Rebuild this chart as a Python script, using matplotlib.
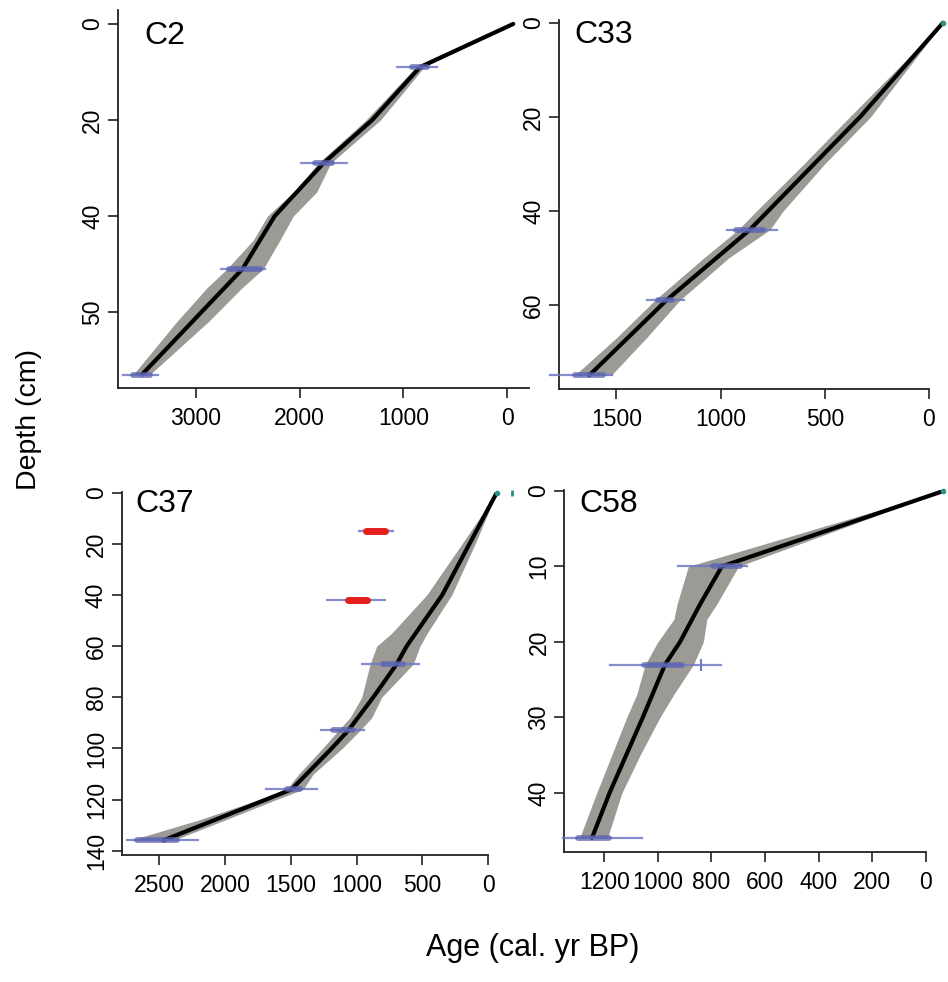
import matplotlib
matplotlib.use("Agg")
import matplotlib.pyplot as plt
import numpy as np

plt.rcParams['font.family'] = ['Liberation Sans', 'DejaVu Sans']

W, H = 948, 982

# ---- C2 ----
c2_line_depth = [0, 9, 20, 29, 40, 51, 73]
c2_line_age = [-60, 840, 1300, 1770, 2240, 2550, 3520]
c2_env_depth = [0, 9, 20, 29, 35, 40, 45, 51, 55, 62, 73]
c2_env_old = [-60, 880, 1360, 1820, 2060, 2310, 2446, 2700, 2896, 3185, 3604]
c2_env_young = [-60, 800, 1220, 1700, 1835, 2061, 2189, 2350, 2558, 2880, 3443]
c2_date_depth = [9, 29, 51, 73]
c2_date_lo = [675, 1545, 2330, 3365]
c2_date_hi = [1060, 1990, 2760, 3700]
c2_dens_lo = [775, 1690, 2380, 3443]
c2_dens_hi = [919, 1851, 2680, 3604]

# ---- C33 ----
c33_line_depth = [0, 20, 44, 59, 75]
c33_line_age = [-67, 330, 859, 1259, 1630]
c33_env_depth = [0, 20, 30, 40, 44, 50, 59, 67, 75]
c33_env_old = [-67, 380, 600, 827, 915, 1080, 1315, 1499, 1700]
c33_env_young = [-67, 280, 500, 699, 763, 960, 1195, 1355, 1525]
c33_date_depth = [44, 59, 75]
c33_date_lo = [728, 1174, 1523]
c33_date_hi = [968, 1355, 1819]
c33_dens_lo = [795, 1235, 1563]
c33_dens_hi = [926, 1299, 1699]

# ---- C37 ----
c37_line_depth = [0, 40, 60, 67, 80, 93, 100, 116, 136]
c37_line_age = [-64, 350, 620, 696, 874, 1064, 1190, 1494, 2470]
c37_env_depth = [0, 20, 40, 55, 60, 67, 80, 88, 93, 100, 110, 116, 120, 128, 136]
c37_env_old = [-64, 200, 468, 735, 848, 898, 962, 1051, 1140, 1260, 1440, 1532, 1740, 2200, 2723]
c37_env_young = [-64, 100, 278, 465, 519, 570, 810, 886, 975, 1110, 1330, 1406, 1610, 2000, 2394]
c37_date_depth = [67, 93, 116, 136]
c37_date_lo = [524, 946, 1304, 2205]
c37_date_hi = [962, 1274, 1689, 2749]
c37_dens_lo = [646, 1026, 1430, 2368]
c37_dens_hi = [798, 1178, 1532, 2672]
c37_out_depth = [15, 42]
c37_out_lo = [722, 785]
c37_out_hi = [981, 1228]
c37_out_dens_lo = [785, 924]
c37_out_dens_hi = [929, 1064]

# ---- C58 ----
c58_line_depth = [0, 10, 15, 20, 23, 30, 40, 46]
c58_line_age = [-66, 761, 842, 917, 973, 1056, 1180, 1246]
c58_env_depth = [0, 10, 15, 17, 20, 23, 27, 30, 35, 40, 46]
c58_env_old = [-66, 886, 928, 940, 1000, 1047, 1079, 1116, 1172, 1228, 1292]
c58_env_young = [-66, 699, 780, 817, 830, 867, 941, 992, 1066, 1134, 1188]
c58_date_depth = [10, 23, 46]
c58_date_lo = [668, 765, 1060]
c58_date_hi = [925, 1180, 1352]
c58_dens_lo = [692, 910, 1182]
c58_dens_hi = [795, 1053, 1296]

ENV = '#9c9a95'
BLUE = '#6f78c4'
BLUE_D = '#5a63b0'
RED = '#e3201e'
TEAL = '#2f8f86'


def make_axes(fig, left, right, top, bottom):
    return fig.add_axes([left / W, 1 - bottom / H, (right - left) / W, (bottom - top) / H])


def draw_core(ax, ld, la, ed, eo, ey, dd, dlo, dhi, klo, khi, teal=True):
    ax.fill_betweenx(ed, eo, ey, color=ENV, lw=0, zorder=1)
    ax.plot(la, ld, color='black', lw=3, zorder=3, solid_capstyle='round',
            solid_joinstyle='round')
    for d, lo, hi in zip(dd, dlo, dhi):
        ax.plot([lo, hi], [d, d], color=BLUE, lw=1.6, alpha=0.85, zorder=4, clip_on=False)
    for d, lo, hi in zip(dd, klo, khi):
        ax.plot([lo, hi], [d, d], color=BLUE_D, lw=4.2, alpha=0.75, zorder=4,
                solid_capstyle='round', clip_on=False)
    if teal:
        ax.plot([la[0]], [ld[0]], 'o', ms=3, color=TEAL, zorder=5, clip_on=False)


def style(ax, xlim, ylim, xticks, yticks, ylabels=None, xbound=None):
    ax.set_xlim(*xlim)
    ax.set_ylim(*ylim)
    ax.set_xticks(xticks)
    ax.set_yticks(yticks)
    ax.set_xticklabels([str(t) for t in xticks])
    ax.set_yticklabels(ylabels if ylabels else [str(t) for t in yticks])
    for s in ['top', 'right']:
        ax.spines[s].set_visible(False)
    for s in ['left', 'bottom']:
        ax.spines[s].set_linewidth(1.3)
        ax.spines[s].set_color('#222222')
    if xbound is not None:
        ax.spines['bottom'].set_bounds(*xbound)
    ax.tick_params(direction='out', length=7, width=1.2, labelsize=16.5, color='#222222')
    ax.tick_params(axis='x', pad=7)
    ax.tick_params(axis='y', pad=3)
    for t in ax.get_yticklabels():
        t.set_rotation(90)
        t.set_va('center')


fig = plt.figure(figsize=(W / 100, H / 100), dpi=100)

# C2
ax = make_axes(fig, 118, 529, 10, 388)
draw_core(ax, c2_line_depth, c2_line_age, c2_env_depth, c2_env_old, c2_env_young,
          c2_date_depth, c2_date_lo, c2_date_hi, c2_dens_lo, c2_dens_hi, teal=False)
style(ax, (3751, -212), (75.8, -2.9), [3000, 2000, 1000, 0], [0, 20, 40, 60],
      ylabels=['0', '20', '40', '50'])

# C33
ax = make_axes(fig, 559, 945, 20, 389)
draw_core(ax, c33_line_depth, c33_line_age, c33_env_depth, c33_env_old, c33_env_young,
          c33_date_depth, c33_date_lo, c33_date_hi, c33_dens_lo, c33_dens_hi)
style(ax, (1775, -77), (77.9, -0.6), [1500, 1000, 500, 0], [0, 20, 40, 60],
      xbound=(1775, 0))

# C37
ax = make_axes(fig, 121.7, 500, 491.7, 855)
draw_core(ax, c37_line_depth, c37_line_age, c37_env_depth, c37_env_old, c37_env_young,
          c37_date_depth, c37_date_lo, c37_date_hi, c37_dens_lo, c37_dens_hi)
for d, lo, hi in zip(c37_out_depth, c37_out_lo, c37_out_hi):
    ax.plot([lo, hi], [d, d], color=BLUE, lw=1.6, alpha=0.85, zorder=4)
for d, lo, hi in zip(c37_out_depth, c37_out_dens_lo, c37_out_dens_hi):
    ax.plot([lo, hi], [d, d], color=RED, lw=5, zorder=5, solid_capstyle='round')
ax.plot([-178], [0], marker='|', ms=4, mew=2, color=TEAL, clip_on=False, zorder=5)
style(ax, (2786, -89), (141.7, -0.4), [2500, 2000, 1500, 1000, 500, 0],
      [0, 20, 40, 60, 80, 100, 120, 140], xbound=(2786, 0))

# C58
ax = make_axes(fig, 564.3, 945, 490, 851.7)
draw_core(ax, c58_line_depth, c58_line_age, c58_env_depth, c58_env_old, c58_env_young,
          c58_date_depth, c58_date_lo, c58_date_hi, c58_dens_lo, c58_dens_hi)
ax.plot([838], [23], marker='|', ms=8, mew=1.5, color=BLUE, zorder=5)
style(ax, (1349, -72), (47.8, -0.13), [1200, 1000, 800, 600, 400, 200, 0],
      [0, 10, 20, 30, 40], xbound=(1349, 0))

# panel names
for name, x, y in [('C2', 144, 21), ('C33', 574, 20), ('C37', 135, 489), ('C58', 579, 489)]:
    fig.text(x / W, 1 - y / H, name, fontsize=23, va='top', ha='left')

fig.text(29 / W, 1 - 420 / H, 'Depth (cm)', rotation=90, fontsize=20.5, ha='center', va='center')
fig.text(533 / W, 1 - 948 / H, 'Age (cal. yr BP)', fontsize=22, ha='center', va='center')

fig.savefig('out.png', dpi=100)
